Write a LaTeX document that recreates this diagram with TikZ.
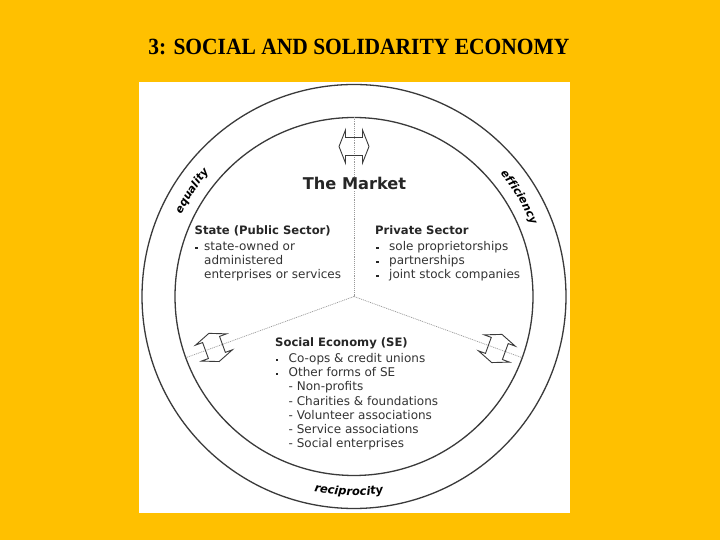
\documentclass[tikz,border=0pt]{standalone}
\usepackage{fontspec}
\setmainfont{DejaVu Sans}
\newfontfamily\titlefont{Liberation Serif}
\usetikzlibrary{calc,decorations.text}
\definecolor{bgcol}{HTML}{FFC000}
\definecolor{linecol}{HTML}{3A3A3A}
\begin{document}
\begin{tikzpicture}[x=1pt,y=1pt,
  hdr/.style={font=\fontsize{11.6}{14}\selectfont\bfseries, anchor=base west, inner sep=0, text=black!85},
  body/.style={font=\fontsize{12}{14}\selectfont, anchor=base west, inner sep=0, text=black!80},
  bul/.style={fill=black!85, minimum width=2.2pt, minimum height=2.6pt, inner sep=0},
  ring/.style={draw=linecol, line width=1.3pt},
  sep/.style={draw=gray!80, line width=0.7pt, dash pattern=on 1pt off 0.9pt},
  xarrow/.pic={\draw[draw=linecol, line width=0.9pt, line join=miter]
     (15,0) -- (8.5,16.5) -- (8.5,9) -- (-8.5,9) -- (-8.5,16.5) -- (-15,0)
     -- (-8.5,-16.5) -- (-8.5,-9) -- (8.5,-9) -- (8.5,-16.5) -- cycle;},
]
\useasboundingbox (0,0) rectangle (720,540);
\fill[bgcol] (0,0) rectangle (720,540);
\fill[white] (138.5,27.3) rectangle (570,457.5);

% title
\node[anchor=base, inner sep=0] (title) at (359,485)
  {\scalebox{1}[1.08]{\titlefont\bfseries\fontsize{21.5}{24}\selectfont 3: SOCIAL AND SOLIDARITY ECONOMY}};

% circles
\coordinate (C) at (354,243.5);
\draw[ring] (C) circle[radius=212];
\draw[ring] (C) circle[radius=179];

% separators
\coordinate (eT) at ($(C)+(90:179)$);
\coordinate (eL) at ($(C)+(200:179)$);
\coordinate (eR) at ($(C)+(340:179)$);
\draw[sep] (C) -- (eT);
\draw[sep] (C) -- (eL);
\draw[sep] (C) -- (eR);

% double arrows across the boundaries
\coordinate (aT) at ($(C)+(90:150)$);
\coordinate (aL) at ($(C)+(200:149)$);
\coordinate (aR) at ($(C)+(340:152)$);
\pic at (aT) {xarrow};
\pic[rotate=110] at (aL) {xarrow};
\pic[rotate=70] at (aR) {xarrow};

% ring words
\path[decorate, decoration={text along path, text align=center,
  text={|\fontsize{11}{13}\selectfont\bfseries\itshape|equality}}]
  ($(C)+(165:191)$) arc[start angle=165, end angle=129, radius=191];
\path[decorate, decoration={text along path, text align=center,
  text={|\fontsize{11}{13}\selectfont\bfseries\itshape|efficiency}}]
  ($(C)+(50:191)$) arc[start angle=50, end angle=12, radius=191];
\path[decorate, decoration={text along path, text align=center,
  text={|\fontsize{11.5}{13}\selectfont\bfseries\itshape|reciprocity}}]
  ($(C)+(248:199)$) arc[start angle=248, end angle=289, radius=199];

% The Market
\node[font=\fontsize{16.2}{19}\selectfont\bfseries, anchor=base, fill=white, inner sep=1pt, text=black!85] (mkt) at (354.5,350) {The Market};

% State
\node[hdr] (st) at (194.5,305) {State (Public Sector)};
\node[bul] (sb1) at (196.5,292) {};
\node[body] (s1) at (204,289.5) {state-owned or};
\node[body] (s2) at (204,275.5) {administered};
\node[body] (s3) at (204,261.3) {enterprises or services};

% Private
\node[hdr] (pv) at (375,305) {Private Sector};
\node[bul] (pb1) at (377.5,292) {};
\node[bul] (pb2) at (377.5,278) {};
\node[bul] (pb3) at (377.5,264) {};
\node[body] (p1) at (389,289.5) {sole proprietorships};
\node[body] (p2) at (389,275.5) {partnerships};
\node[body] (p3) at (389,261.3) {joint stock companies};

% Social economy
\node[hdr] (se) at (275,193) {Social Economy (SE)};
\node[bul] (eb1) at (277,180) {};
\node[bul] (eb2) at (277,166) {};
\node[body] (e1) at (288.5,177.5) {Co-ops \& credit unions};
\node[body] (e2) at (288.5,163.3) {Other forms of SE};
\node[body] (e3) at (288.5,149) {- Non-profits};
\node[body] (e4) at (288.5,134.8) {- Charities \& foundations};
\node[body] (e5) at (288.5,120.6) {- Volunteer associations};
\node[body] (e6) at (288.5,106.4) {- Service associations};
\node[body] (e7) at (288.5,92.2) {- Social enterprises};
\end{tikzpicture}
\end{document}
